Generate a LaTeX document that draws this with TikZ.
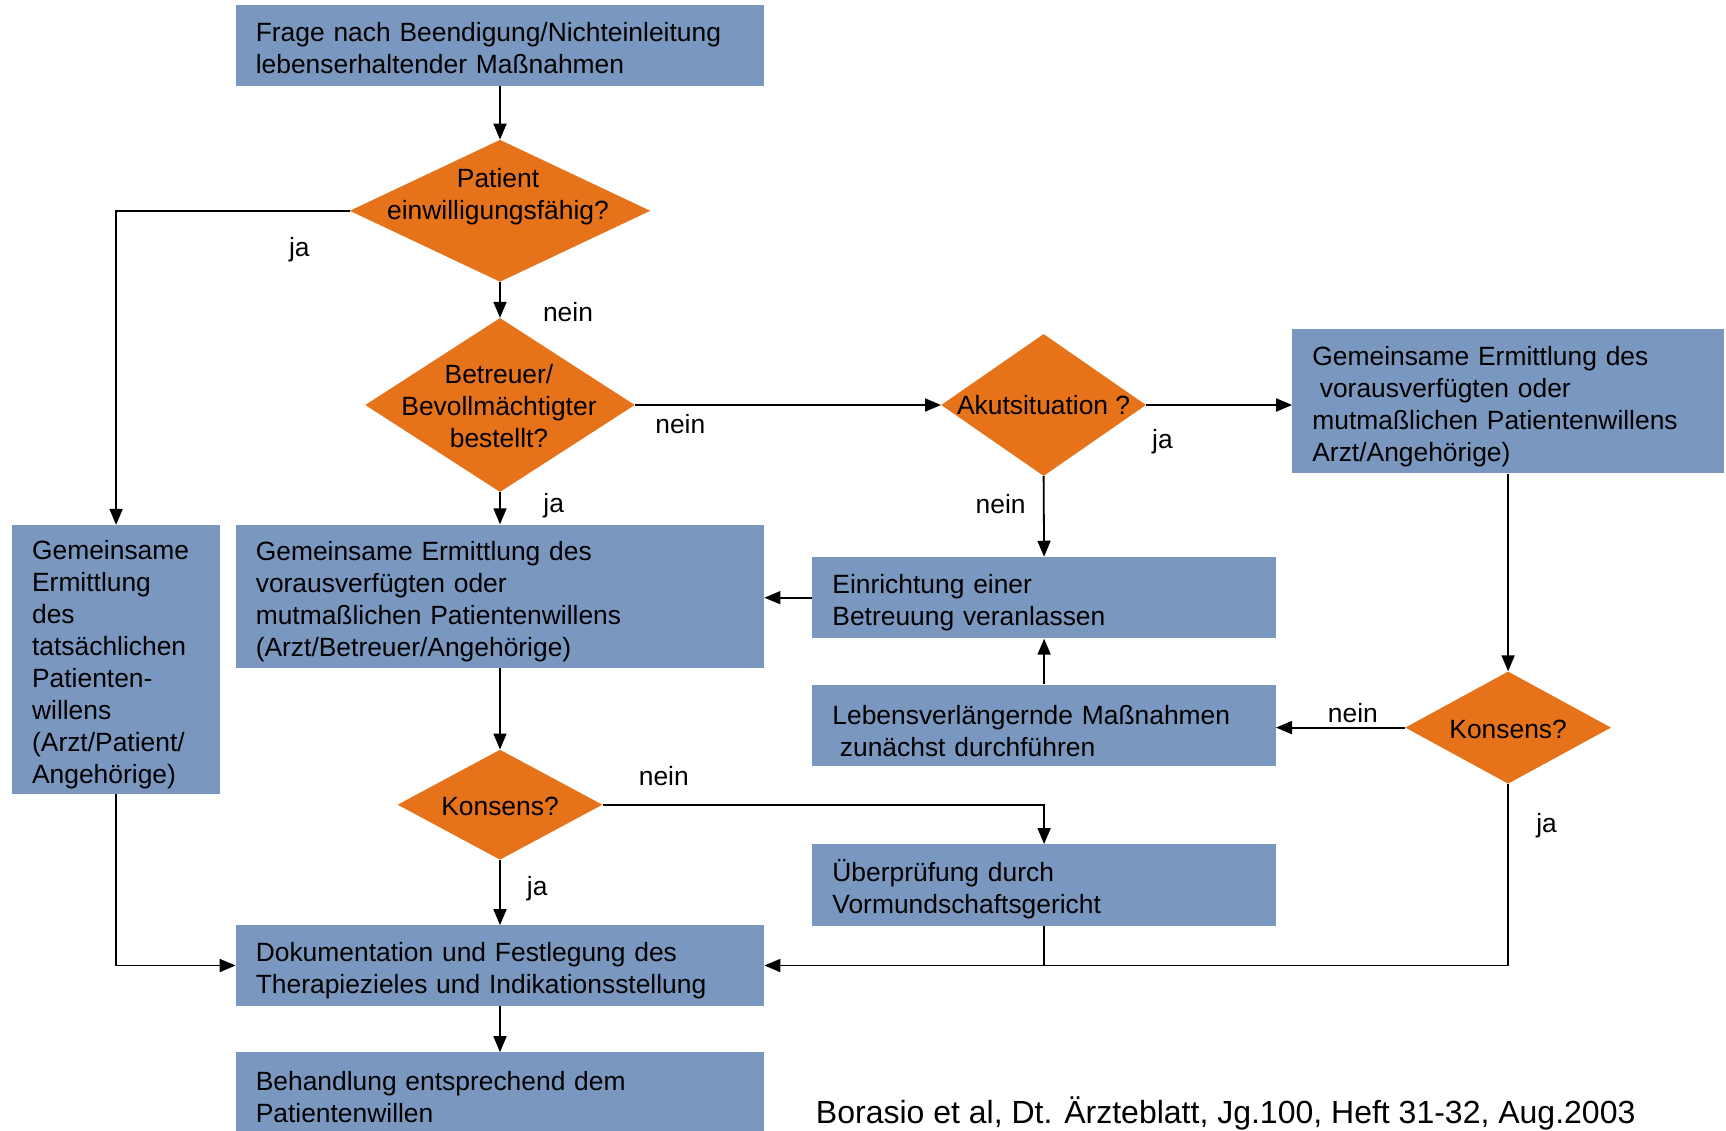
\documentclass[tikz,border=0pt]{standalone}
\usepackage{fontspec}
\setmainfont{Liberation Sans}
\usetikzlibrary{shapes.geometric,arrows.meta,calc}
\definecolor{boxblue}{RGB}{122,151,191}
\definecolor{decorange}{RGB}{230,114,26}
\newcommand\firstlinestrut{\rule{0pt}{30pt}}
\newcommand\smallfirststrut{\rule{0pt}{24.5pt}}
\begin{document}
\begin{tikzpicture}[x=1pt,y=-1pt,
  txt/.style={font=\fontsize{26.4}{32}\selectfont},
  bbox/.style={txt, fill=boxblue, draw=none, inner xsep=20pt, inner ysep=0pt, align=left, anchor=center},
  dec/.style={diamond, fill=decorange, draw=none, inner sep=0pt},
  lbl/.style={txt, inner sep=0pt},
  arr/.style={line width=1.8pt, -{Triangle[length=16pt,width=13pt]}},
  ln/.style={line width=1.8pt},
]
\useasboundingbox (0,0) rectangle (1726,1131);

% boxes
\node[bbox, text width=488.4pt, minimum height=80.5pt] (b1) at (500,45.7)
  {\smallfirststrut Frage nach Beendigung/Nichteinleitung\\lebenserhaltender Maßnahmen};
\node[bbox, text width=168pt, minimum height=268.6pt] (left) at (116.1,659.4)
  {\firstlinestrut Gemeinsame\\Ermittlung\\des\\tatsächlichen\\Patienten-\\willens\\(Arzt/Patient/\\Angehörige)};
\node[bbox, text width=488.4pt, minimum height=143pt] (b2) at (500,596)
  {\firstlinestrut Gemeinsame Ermittlung des\\vorausverfügten oder\\mutmaßlichen Patientenwillens\\(Arzt/Betreuer/Angehörige)};
\node[bbox, text width=391.5pt, minimum height=144.2pt] (rbox) at (1508.1,401.2)
  {\firstlinestrut Gemeinsame Ermittlung des\\\hspace*{7.5pt}vorausverfügten oder\\mutmaßlichen Patientenwillens\\Arzt/Angehörige)};
\node[bbox, text width=423.4pt, minimum height=81.5pt] (ein) at (1044.1,597.7)
  {\firstlinestrut Einrichtung einer\\Betreuung veranlassen};
\node[bbox, text width=423.4pt, minimum height=81.5pt] (leb) at (1044.1,725.4)
  {\firstlinestrut Lebensverlängernde Maßnahmen\\\hspace*{7.5pt}zunächst durchführen};
\node[bbox, text width=423.4pt, minimum height=81.5pt] (ueb) at (1044.1,885)
  {\firstlinestrut Überprüfung durch\\Vormundschaftsgericht};
\node[bbox, text width=488.4pt, minimum height=80.4pt] (doku) at (500,965.5)
  {\firstlinestrut Dokumentation und Festlegung des\\Therapiezieles und Indikationsstellung};
\node[bbox, text width=488.4pt, minimum height=84pt] (beh) at (500,1094.4)
  {\smallfirststrut Behandlung entsprechend dem\\Patientenwillen};

% decisions
\node[dec, minimum width=300.6pt, minimum height=142pt] (d1) at (500,210.8) {};
\node[lbl, align=center] (d1t) at (498,196.5) {Patient\\einwilligungsfähig?};
\node[dec, minimum width=269.6pt, minimum height=174pt] (d2) at (500,405) {};
\node[lbl, align=center] (d2t) at (499,406) {Betreuer/\\Bevollmächtigter\\bestellt?};
\node[dec, minimum width=204.8pt, minimum height=142pt] (d3) at (1043.6,405) {};
\node[lbl] (d3t) at (1043.6,405) {Akutsituation ?};
\node[dec, minimum width=205.8pt, minimum height=112.2pt] (d4) at (1508.1,727.6) {};
\node[lbl] (d4t) at (1508.1,729) {Konsens?};
\node[dec, minimum width=204.8pt, minimum height=110pt] (d5) at (500,804.7) {};
\node[lbl] (d5t) at (500,806.5) {Konsens?};

% connectors
\draw[arr] (b1.south) -- (d1.north);
\draw[arr] (d1.west) -| (left.north);
\draw[arr] (d1.south) -- (d2.north);
\draw[arr] (d2.east) -- (d3.west);
\draw[arr] (d3.east) -- (d3.east -| rbox.west);
\draw[arr] (d3.south) -- (ein.north);
\draw[arr] (d2.south) -- (b2.north);
\draw[arr] (ein.west) -- (ein.west -| b2.east);
\draw[arr] (leb.north) -- (ein.south);
\draw[arr] (rbox.south) -- (d4.north);
\draw[arr] (d4.west) -- (d4.west -| leb.east);
\draw[arr] (d4.south) |- (doku.east);
\draw[arr] (b2.south) -- (d5.north);
\draw[arr] (d5.east) -| (ueb.north);
\draw[ln] (ueb.south) -- (ueb.south |- doku.east);
\draw[arr] (d5.south) -- (doku.north);
\draw[arr] (left.south) |- (doku.west);
\draw[arr] (doku.south) -- (beh.north);

% labels
\node[lbl] (l1) at (299.4,249.5) {ja};
\node[lbl] (l2) at (568,312.5) {nein};
\node[lbl] (l3) at (680.3,424.5) {nein};
\node[lbl] (l4) at (553.7,505.5) {ja};
\node[lbl] (l5) at (1162.4,441.5) {ja};
\node[lbl] (l6) at (1000.6,504) {nein};
\node[lbl] (l7) at (1352.9,713) {nein};
\node[lbl] (l8) at (1546.6,826) {ja};
\node[lbl] (l9) at (663.8,776.5) {nein};
\node[lbl] (l10) at (537.2,889) {ja};

\node[inner sep=0pt, font=\fontsize{32}{38}\selectfont] (cite) at (1225.7,1113)
  {Borasio et al, Dt. Ärzteblatt, Jg.100, Heft 31-32, Aug.2003};
\end{tikzpicture}
\end{document}
